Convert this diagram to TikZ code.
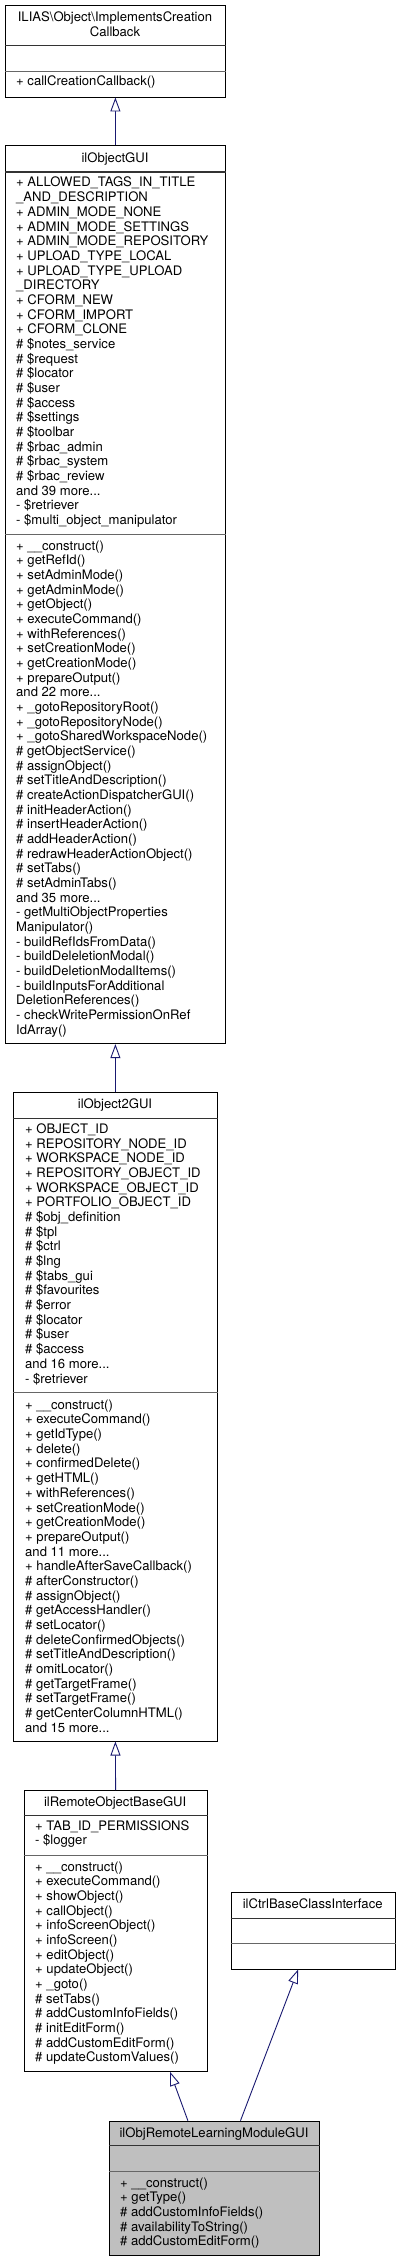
\documentclass[tikz,border=0pt]{standalone}
\usepackage{fontspec}
\setmainfont{TeX Gyre Heros}
\usetikzlibrary{arrows.meta,calc}
\definecolor{edgeblue}{HTML}{191970}
\definecolor{hilite}{HTML}{BFBFBF}
\newcommand\umllines[1]{\begin{tabular}[t]{@{}l@{}}#1\end{tabular}}
\begin{document}
\begin{tikzpicture}[x=1pt,y=-1pt,
  umlbox/.style={draw=black, line width=0.8pt, inner sep=0pt, anchor=north west},
  sepa/.style={draw=black!80, line width=1.1pt},
  sepb/.style={draw=black!60, line width=0.9pt},
  txt/.style={font=\fontsize{13.1}{14.67}\selectfont, inner sep=0pt, anchor=base west},
  ttl/.style={font=\fontsize{13.1}{14.67}\selectfont, inner sep=0pt, anchor=base},
  inh/.style={draw=edgeblue, line width=0.9pt, -{Triangle[length=14pt,width=10pt,fill=white]}}
]
\useasboundingbox (0,0) rectangle (400,2261);

% ---------- Box 1 ----------
\node[umlbox, minimum width=219.4pt, minimum height=91.4pt] (b1) at (5.3,5.3) {};
\draw[sepa] (b1.west |- 0,45.7) -- (b1.east |- 0,45.7);
\draw[sepb] (b1.west |- 0,71) -- (b1.east |- 0,71);
\node[ttl] (b1t) at (115,21.6) {ILIAS\textbackslash Object\textbackslash ImplementsCreation};
\node[ttl] (b1t2) at (115,36.6) {Callback};
\node[txt] (b1m) at (16,86) {+ callCreationCallback()};

% ---------- Box 2 ----------
\node[umlbox, minimum width=220pt, minimum height=898pt] (b2) at (5,145.3) {};
\draw[sepa] (b2.west |- 0,172) -- (b2.east |- 0,172);
\draw[sepb] (b2.west |- 0,534) -- (b2.east |- 0,534);
\node[ttl] (b2t) at (115,162.6) {ilObjectGUI};
\node[txt] (b2a) at (16,187) {\umllines{+ ALLOWED\_TAGS\_IN\_TITLE\\\_AND\_DESCRIPTION\\+ ADMIN\_MODE\_NONE\\+ ADMIN\_MODE\_SETTINGS\\+ ADMIN\_MODE\_REPOSITORY\\+ UPLOAD\_TYPE\_LOCAL\\+ UPLOAD\_TYPE\_UPLOAD\\\_DIRECTORY\\+ CFORM\_NEW\\+ CFORM\_IMPORT\\+ CFORM\_CLONE\\\# \$notes\_service\\\# \$request\\\# \$locator\\\# \$user\\\# \$access\\\# \$settings\\\# \$toolbar\\\# \$rbac\_admin\\\# \$rbac\_system\\\# \$rbac\_review\\and 39 more...\\- \$retriever\\- \$multi\_object\_manipulator}};
\node[txt] (b2m) at (16,550) {\umllines{+ \_\_construct()\\+ getRefId()\\+ setAdminMode()\\+ getAdminMode()\\+ getObject()\\+ executeCommand()\\+ withReferences()\\+ setCreationMode()\\+ getCreationMode()\\+ prepareOutput()\\and 22 more...\\+ \_gotoRepositoryRoot()\\+ \_gotoRepositoryNode()\\+ \_gotoSharedWorkspaceNode()\\\# getObjectService()\\\# assignObject()\\\# setTitleAndDescription()\\\# createActionDispatcherGUI()\\\# initHeaderAction()\\\# insertHeaderAction()\\\# addHeaderAction()\\\# redrawHeaderActionObject()\\\# setTabs()\\\# setAdminTabs()\\and 35 more...\\- getMultiObjectProperties\\Manipulator()\\- buildRefIdsFromData()\\- buildDeleletionModal()\\- buildDeletionModalItems()\\- buildInputsForAdditional\\DeletionReferences()\\- checkWritePermissionOnRef\\IdArray()}};

% ---------- Box 3 ----------
\node[umlbox, minimum width=203.4pt, minimum height=648.4pt] (b3) at (13.3,1092.3) {};
\draw[sepa] (b3.west |- 0,1118.3) -- (b3.east |- 0,1118.3);
\draw[sepb] (b3.west |- 0,1392.7) -- (b3.east |- 0,1392.7);
\node[ttl] (b3t) at (115,1108.3) {ilObject2GUI};
\node[txt] (b3a) at (25,1133.6) {\umllines{+ OBJECT\_ID\\+ REPOSITORY\_NODE\_ID\\+ WORKSPACE\_NODE\_ID\\+ REPOSITORY\_OBJECT\_ID\\+ WORKSPACE\_OBJECT\_ID\\+ PORTFOLIO\_OBJECT\_ID\\\# \$obj\_definition\\\# \$tpl\\\# \$ctrl\\\# \$lng\\\# \$tabs\_gui\\\# \$favourites\\\# \$error\\\# \$locator\\\# \$user\\\# \$access\\and 16 more...\\- \$retriever}};
\node[txt] (b3m) at (25,1409.3) {\umllines{+ \_\_construct()\\+ executeCommand()\\+ getIdType()\\+ delete()\\+ confirmedDelete()\\+ getHTML()\\+ withReferences()\\+ setCreationMode()\\+ getCreationMode()\\+ prepareOutput()\\and 11 more...\\+ handleAfterSaveCallback()\\\# afterConstructor()\\\# assignObject()\\\# getAccessHandler()\\\# setLocator()\\\# deleteConfirmedObjects()\\\# setTitleAndDescription()\\\# omitLocator()\\\# getTargetFrame()\\\# setTargetFrame()\\\# getCenterColumnHTML()\\and 15 more...}};

% ---------- Box 4 ----------
\node[umlbox, minimum width=183pt, minimum height=281pt] (b4) at (23.7,1790) {};
\draw[sepa] (b4.west |- 0,1815.7) -- (b4.east |- 0,1815.7);
\draw[sepb] (b4.west |- 0,1855) -- (b4.east |- 0,1855);
\node[ttl] (b4t) at (115.2,1806) {ilRemoteObjectBaseGUI};
\node[txt] (b4a) at (35,1830.3) {\umllines{+ TAB\_ID\_PERMISSIONS\\- \$logger}};
\node[txt] (b4m) at (35,1871) {\umllines{+ \_\_construct()\\+ executeCommand()\\+ showObject()\\+ callObject()\\+ infoScreenObject()\\+ infoScreen()\\+ editObject()\\+ updateObject()\\+ \_goto()\\\# setTabs()\\\# addCustomInfoFields()\\\# initEditForm()\\\# addCustomEditForm()\\\# updateCustomValues()}};

% ---------- Box 5 ----------
\node[umlbox, minimum width=164pt, minimum height=76.4pt] (b5) at (230.7,1892.3) {};
\draw[sepa] (b5.west |- 0,1918.3) -- (b5.east |- 0,1918.3);
\draw[sepb] (b5.west |- 0,1943.3) -- (b5.east |- 0,1943.3);
\node[ttl] (b5t) at (312.7,1908.6) {ilCtrlBaseClassInterface};

% ---------- Box 6 ----------
\node[umlbox, fill=hilite, minimum width=209.4pt, minimum height=134.3pt] (b6) at (109.3,2120.7) {};
\draw[sepa] (b6.west |- 0,2145.3) -- (b6.east |- 0,2145.3);
\draw[sepb] (b6.west |- 0,2171) -- (b6.east |- 0,2171);
\node[ttl] (b6t) at (214,2137) {ilObjRemoteLearningModuleGUI};
\node[txt] (b6m) at (120,2187) {\umllines{+ \_\_construct()\\+ getType()\\\# addCustomInfoFields()\\\# availabilityToString()\\\# addCustomEditForm()}};

% ---------- Inheritance ----------
\draw[inh] (b2.north) -- (b1.south);
\draw[inh] (b3.north) -- (b2.south);
\draw[inh] (b4.north) -- (b3.south);
\draw[inh] ($(b6.north west)!0.374!(b6.north east)$) -- ($(b4.south west)!0.796!(b4.south east)$);
\draw[inh] ($(b6.north west)!0.624!(b6.north east)$) -- ($(b5.south west)!0.409!(b5.south east)$);
\end{tikzpicture}
\end{document}
